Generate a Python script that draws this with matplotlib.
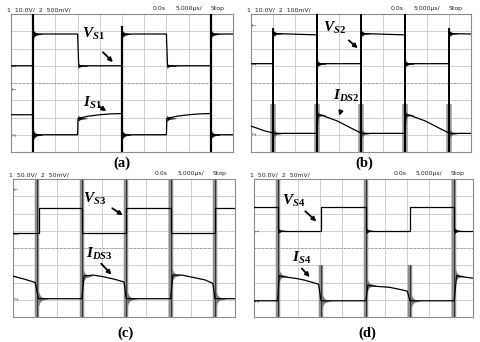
import matplotlib.pyplot as plt

plt.rcParams['mathtext.fontset'] = 'custom'
plt.rcParams['mathtext.it'] = 'Liberation Serif:italic:bold'
plt.rcParams['mathtext.rm'] = 'Liberation Serif:bold'
plt.rcParams['mathtext.bf'] = 'Liberation Serif:bold'

# scope traces read off the screens: x in divisions (0-10), y in divisions from centre (-4..4)
# (a)
a_v_t = [0, 1, 1, 3, 3.05, 5, 5, 7, 7.05, 9, 9, 10]
a_v_y = [1.0, 1.0, 2.84, 2.84, 1.0, 1.0, 2.84, 2.84, 1.0, 1.0, 2.84, 2.84]
a_i_t = [0, 1, 1, 3, 3.02, 3.5, 4.0, 4.5, 5, 5, 7, 7.02, 7.5, 8.0, 8.5, 9, 9, 10]
a_i_y = [-1.84, -1.84, -3.0, -3.0, -2.05, -1.92, -1.84, -1.79, -1.77, -3.0, -3.0, -2.05, -1.92, -1.84, -1.79, -1.77, -3.0, -3.0]
a_spk_t = [1, 5, 9]
a_spk_top = [4, 3.3, 4]

# (b)
b_v_t = [0, 1, 1, 3, 3, 5, 5, 7, 7, 9, 9, 10]
b_v_y = [1.12, 1.12, 2.87, 2.79, 1.12, 1.12, 2.87, 2.79, 1.12, 1.12, 2.87, 2.84]
b_i_t = [0, 0.3, 0.6, 0.95, 1, 3, 3.05, 3.2, 3.9, 4.5, 4.95, 5, 7, 7.05, 7.2, 7.9, 8.5, 8.95, 9, 10]
b_i_y = [-2.5, -2.63, -2.77, -2.88, -2.92, -2.92, -1.85, -1.87, -2.19, -2.58, -2.87, -2.92, -2.92, -1.85, -1.87, -2.19, -2.58, -2.87, -2.92, -2.92]
b_spk_t = [1, 3, 5, 7, 9]
b_spk_top = [3.2, 4, 4, 4, 3.2]
b_ring_v = [2.87, 1.12, 2.87, 1.12, 2.87]
b_ring_i = [-2.92, -1.85, -2.92, -1.85, -2.92]

# (c)
c_v_t = [0, 1.15, 1.15, 3.1, 3.1, 5.1, 5.1, 7.1, 7.1, 9.1, 9.1, 10]
c_v_y = [0.86, 0.86, 2.3, 2.3, 0.86, 0.86, 2.3, 2.3, 0.86, 0.86, 2.3, 2.3]
c_i_t = [0, 0.5, 1.0, 1.15, 3.1, 3.2, 3.6, 4.05, 4.6, 5.0, 5.1, 7.1, 7.2, 7.6, 8.1, 8.65, 9.0, 9.1, 10]
c_i_y = [-1.63, -1.8, -2.0, -2.94, -2.94, -1.62, -1.57, -1.66, -1.82, -1.97, -2.94, -2.94, -1.57, -1.57, -1.7, -1.85, -2.05, -2.94, -2.94]
c_spk_t = [1.1, 3.1, 5.1, 7.1, 9.1]
c_spk_top = [4, 4, 4, 4, 4]
c_ring_i = [-2.94, -1.62, -2.94, -1.57, -2.94]

# (d)
d_v_t = [0, 1.08, 1.08, 3.06, 3.06, 5.11, 5.11, 7.12, 7.12, 9.14, 9.14, 10]
d_v_y = [2.35, 2.35, 1.0, 1.0, 2.35, 2.35, 1.0, 1.0, 2.35, 2.35, 1.0, 1.0]
d_i_t = [0, 1.08, 1.15, 1.3, 1.9, 2.3, 2.95, 3.06, 5.11, 5.2, 5.35, 6.2, 6.65, 7.0, 7.12, 9.14, 9.25, 9.4, 10]
d_i_y = [-3.06, -3.06, -1.6, -1.66, -1.76, -1.86, -2.1, -3.06, -3.06, -2.15, -2.2, -2.28, -2.4, -2.5, -3.06, -3.06, -1.6, -1.65, -1.75]
d_spk_t = [1.08, 3.06, 5.11, 7.12, 9.14]
d_spk_top = [4, -1.0, 4, -1.0, 4]
d_ring_i = [-1.62, -3.06, -2.15, -3.06, -1.62]

heads = ['1  10.0V/  2  500mV/', '1  10.0V/  2  100mV/', '1  50.0V/  2  50mV/', '1  50.0V/  2  50mV/']
panel_tags = ['(a)', '(b)', '(c)', '(d)']

# decaying ringing envelope after a switching edge
ring_dt = [0.0, 0.03, 0.08, 0.15, 0.25, 0.4]
ring_amp = [0.3, 0.2, 0.12, 0.06, 0.03, 0.0]

fig = plt.figure(figsize=(4.8, 3.42), dpi=100)
fig.patch.set_facecolor('white')

# pixel boxes: left, top, right, bottom
boxes = [(11, 14, 233, 152), (251, 14, 471, 152), (13, 179, 235, 317), (254, 179, 473, 317)]
tag_pos = [(122, 163), (364, 163), (125, 333), (367, 333)]


def add_panel(box):
    L, T, R, B = box
    return fig.add_axes([L / 480, 1 - B / 342, (R - L) / 480, (B - T) / 342])


def screen(ax, head):
    ax.set_xlim(0, 10)
    ax.set_ylim(-4, 4)
    ax.set_xticks(range(11))
    ax.set_yticks(range(-4, 5))
    ax.set_axisbelow(True)
    ax.grid(True, color='#c8c8c8', lw=0.6)
    ax.tick_params(length=0, labelbottom=False, labelleft=False)
    ax.axhline(0, color='#a0a0a0', lw=0.7, ls=(0, (2, 2)), zorder=1)
    for s in ax.spines.values():
        s.set_color('#8c8c8c')
        s.set_linewidth(0.8)
    kw = dict(fontsize=4.4, va='bottom', color='#222222', clip_on=False)
    ax.text(-0.02, 1.012, head, transform=ax.transAxes, ha='left', **kw)
    ax.text(6.65, 4.17, '0.0s', ha='center', **kw)
    ax.text(8.0, 4.17, '5.000µs/', ha='center', **kw)
    ax.text(9.3, 4.17, 'Stop', ha='center', **kw)


def ring(ax, t0, level, scale, color='black'):
    xs = [t0 + d for d in ring_dt]
    ax.fill_between(xs, [level - a * scale for a in ring_amp], [level + a * scale for a in ring_amp],
                    color=color, lw=0.3, zorder=3)


def marker(ax, y, s):
    ax.text(0.08, y, s, fontsize=3.5, rotation=90, ha='left', va='center', color='#444444')


axes = [add_panel(b) for b in boxes]
for ax, head in zip(axes, heads):
    screen(ax, head)

# (a)
ax = axes[0]
ax.plot(a_v_t, a_v_y, color='black', lw=0.9, zorder=4)
ax.plot(a_i_t, a_i_y, color='black', lw=0.9, zorder=4)
ax.vlines(a_spk_t, -4, a_spk_top, color='black', lw=1.6, zorder=5)
for t in a_spk_t:
    ring(ax, t, 2.84, 0.8)
    ring(ax, t, -3.0, 0.9)
for t in [3, 7]:
    ring(ax, t + 0.03, 1.0, 0.4)
    ring(ax, t + 0.03, -2.05, 0.5)
marker(ax, 1.0, '1')
marker(ax, -0.4, 'T')
marker(ax, -3.0, '2')

# (b)
ax = axes[1]
ax.vlines(b_spk_t, -4, -1.2, color='#9a9a9a', lw=4, zorder=3)
ax.plot(b_v_t, b_v_y, color='black', lw=0.9, zorder=4)
ax.plot(b_i_t, b_i_y, color='black', lw=0.9, zorder=4)
ax.vlines(b_spk_t, -4, b_spk_top, color='black', lw=1.4, zorder=5)
for t, lv, li in zip(b_spk_t, b_ring_v, b_ring_i):
    ring(ax, t, lv, 0.7)
    ring(ax, t, li, 1.0, '#555555')
marker(ax, 3.35, 'T')
marker(ax, 1.12, '1')
marker(ax, -2.92, '2')

# (c)
ax = axes[2]
ax.vlines(c_spk_t, -4, c_spk_top, color='#8e8e8e', lw=3.2, zorder=3)
ax.vlines(c_spk_t, -4, c_spk_top, color='#333333', lw=0.7, zorder=3)
ax.plot(c_v_t, c_v_y, color='black', lw=0.9, zorder=4)
ax.plot(c_i_t, c_i_y, color='black', lw=0.9, zorder=4)
for t, li in zip(c_spk_t, c_ring_i):
    ring(ax, t + 0.05, li, 1.3, '#777777')
marker(ax, 3.4, 'T')
marker(ax, 0.86, '1')
marker(ax, -2.94, '2')

# (d)
ax = axes[3]
ax.vlines(d_spk_t, -4, d_spk_top, color='#8e8e8e', lw=3.2, zorder=3)
ax.vlines(d_spk_t, -4, d_spk_top, color='#333333', lw=0.7, zorder=3)
ax.plot(d_v_t, d_v_y, color='black', lw=0.9, zorder=4)
ax.plot(d_i_t, d_i_y, color='black', lw=0.9, zorder=4)
for k, (t, li) in enumerate(zip(d_spk_t, d_ring_i)):
    ring(ax, t + 0.05, li, 1.3, '#777777')
    if k % 2 == 0:
        ring(ax, t + 0.02, 1.0, 0.5)
marker(ax, 1.0, '1')
marker(ax, -3.06, '2')

# trace labels with arrows: (text pos, arrow start, arrow tip) in divisions
labels = [
    (0, r'$V_{S\mathit{1}}$', (3.2, 2.61), (4.05, 1.9), (4.68, 1.10)),
    (0, r'$I_{S\mathit{1}}$', (3.24, -1.39), (3.85, -1.25), (4.4, -1.72)),
    (1, r'$V_{S\mathit{2}}$', (3.27, 2.97), (4.35, 2.58), (4.95, 1.91)),
    (1, r'$I_{DS\mathit{2}}$', (3.73, -0.99), (4.12, -1.47), (3.97, -2.05)),
    (2, r'$V_{S\mathit{3}}$', (3.16, 2.59), (4.37, 2.39), (5.05, 1.81)),
    (2, r'$I_{DS\mathit{3}}$', (3.29, -0.6), (3.89, -0.79), (4.52, -1.66)),
    (3, r'$V_{S\mathit{4}}$', (1.26, 2.49), (2.25, 2.24), (2.94, 1.43)),
    (3, r'$I_{S\mathit{4}}$', (1.72, -0.79), (2.1, -1.07), (2.63, -1.8)),
]
for k, s, tp, a0, a1 in labels:
    ax = axes[k]
    ax.text(tp[0], tp[1], s, fontsize=11, ha='left', va='baseline', zorder=6)
    ax.annotate('', xy=a1, xytext=a0, zorder=6,
                arrowprops=dict(arrowstyle='-|>', color='black', lw=1.3, mutation_scale=6))

for tag, (x, y) in zip(panel_tags, tag_pos):
    fig.text(x / 480, 1 - y / 342, tag, fontsize=10.5, fontweight='bold', family='Liberation Serif',
             ha='center', va='center')

plt.savefig('out.png', dpi=100)
